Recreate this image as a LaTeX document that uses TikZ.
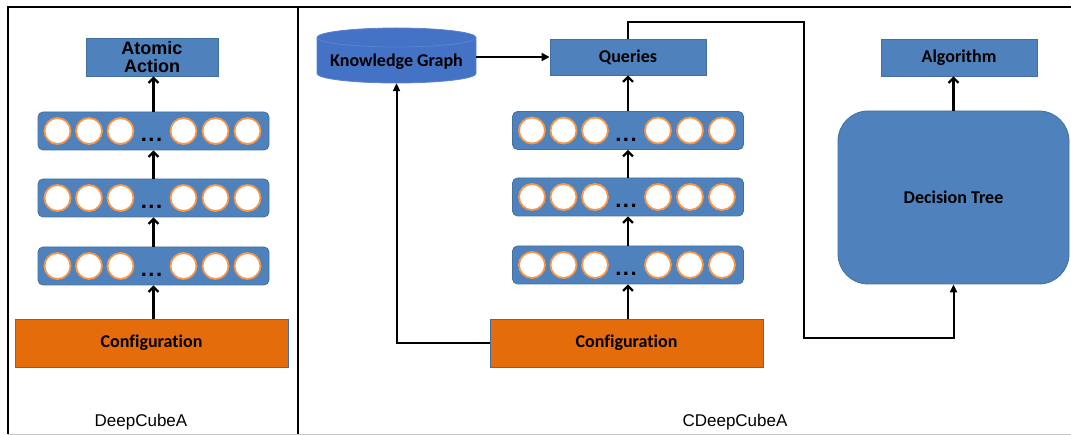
\documentclass[tikz,border=0pt]{standalone}
\usepackage{fontspec}
\setmainfont{Liberation Sans}
\newfontfamily\calfont[Ligatures=NoCommon]{Carlito}
\usetikzlibrary{arrows.meta}
\definecolor{boxblue}{HTML}{4F81BD}
\definecolor{boxedge}{HTML}{41719C}
\definecolor{kgblue}{HTML}{4472C4}
\definecolor{kgedge}{HTML}{5B84CF}
\definecolor{cfgorange}{HTML}{E46C0A}
\definecolor{ringorange}{HTML}{F79646}
\definecolor{rulegray}{HTML}{C8C8C8}
\newcommand\nnlayer[3]{%
  \node[layer] (#1) at (#2,#3) {};
  \foreach \k/\dx in {1/-96,2/-64.5,3/-33,4/30,5/62,6/94}{%
    \node[neuron] (#1n\k) at ([xshift=\dx pt]#1.center) {};}
  \node[dots, anchor=base] (#1d) at ([yshift=-11pt,xshift=-2pt]#1.center) {.\hspace{1.5pt}.\hspace{1.5pt}.};
}
\begin{document}
\begin{tikzpicture}[x=1pt,y=-1pt,
  layer/.style={draw=boxedge, fill=boxblue, rounded corners=5pt, minimum width=231pt, minimum height=38pt, inner sep=0pt, line width=0.8pt},
  neuron/.style={circle, draw=ringorange, fill=white, line width=1.8pt, minimum size=26pt, inner sep=0pt},
  dots/.style={inner sep=0pt, font=\bfseries\fontsize{22}{22}\selectfont},
  bluebox/.style={draw=boxedge, fill=boxblue, line width=0.8pt, inner sep=0pt, font=\calfont\bfseries\fontsize{18}{20}\selectfont},
  cfgbox/.style={draw=boxedge, fill=cfgorange, line width=0.8pt, inner sep=0pt, minimum width=273pt, minimum height=48pt, font=\calfont\bfseries\fontsize{18}{20}\selectfont},
  label/.style={inner sep=0pt, font=\fontsize{17}{20}\selectfont},
  uparr/.style={line width=2.2pt, -{Straight Barb[length=5pt,width=10pt,line width=2.2pt]}},
  conn/.style={line width=2pt},
  triarr/.style={line width=2pt, -{Triangle[length=8pt,width=8pt]}},
  frame/.style={line width=2pt}
]
\useasboundingbox (0,0) rectangle (1071,435);
% frame
\draw[rulegray, line width=1pt] (8,434) -- (1071,434);
\draw[frame] (8,434) -- (8,7) -- (1071,7);
\draw[frame] (298,7) -- (298,434);

% ---------- left panel ----------
\node[bluebox, minimum width=132pt, minimum height=38pt, align=center,
      font=\bfseries\fontsize{18}{20}\selectfont] (aa) at (152,57) {Atomic\\[-2pt]Action};
\nnlayer{la}{153.5}{131}
\nnlayer{lb}{153.5}{198}
\nnlayer{lc}{153.5}{266}
\node[cfgbox] (cfgL) at (151.5,343) {Configuration};
\node[label] (lblL) at (141,422) {DeepCubeA};

\draw[uparr] (lc.south |- cfgL.north) -- (lc.south);
\draw[uparr] (lc.north) -- (lb.south);
\draw[uparr] (lb.north) -- (la.south);
\draw[uparr] (la.north) -- (la.north |- aa.south);

% ---------- right panel ----------
\node[minimum width=159pt, minimum height=55pt, inner sep=0pt] (kg) at (396.5,55.5) {};
\fill[kgblue, draw=kgedge, line width=0.8pt]
  (317,37.5) -- (317,73.5)
  arc[start angle=180, end angle=360, x radius=79.5pt, y radius=9.5pt]
  -- (476,37.5)
  arc[start angle=0, end angle=180, x radius=79.5pt, y radius=9.5pt] -- cycle;
\draw[kgedge, line width=0.8pt] (317,37.5)
  arc[start angle=180, end angle=360, x radius=79.5pt, y radius=9.5pt];
\node[inner sep=0pt, font=\calfont\bfseries\fontsize{18}{20}\selectfont] (kgt) at (396.5,62) {Knowledge Graph};

\node[bluebox, minimum width=156pt, minimum height=36pt] (q) at (628,57) {Queries};
\nnlayer{ra}{628}{130.5}
\nnlayer{rb}{628}{197}
\nnlayer{rc}{628}{265}
\node[cfgbox] (cfgR) at (626.5,343) {Configuration};
\node[label] (lblR) at (735,422) {CDeepCubeA};

\draw[uparr] (rc.south |- cfgR.north) -- (rc.south);
\draw[uparr] (rc.north) -- (rb.south);
\draw[uparr] (rb.north) -- (ra.south);
\draw[uparr] (ra.north) -- (ra.north |- q.south);

\draw[triarr] (q.west -| kg.east) -- (q.west);
\draw[conn, -{Triangle[length=8pt,width=7pt]}] (cfgR.west) -| (kg.south);

\node[bluebox, minimum width=156pt, minimum height=37pt] (alg) at (959,57.5) {Algorithm};
\node[bluebox, rounded corners=30pt, minimum width=231pt, minimum height=173pt] (dt) at (953.5,197.5) {Decision Tree};
\draw[uparr] (dt.north) -- (dt.north |- alg.south);

\coordinate (t1) at (804,22);
\coordinate (t2) at (804,338);
\draw[conn, -{Triangle[length=8pt,width=7pt]}] (q.north) |- (t1) -- (t2) -| (dt.south);
\end{tikzpicture}
\end{document}
